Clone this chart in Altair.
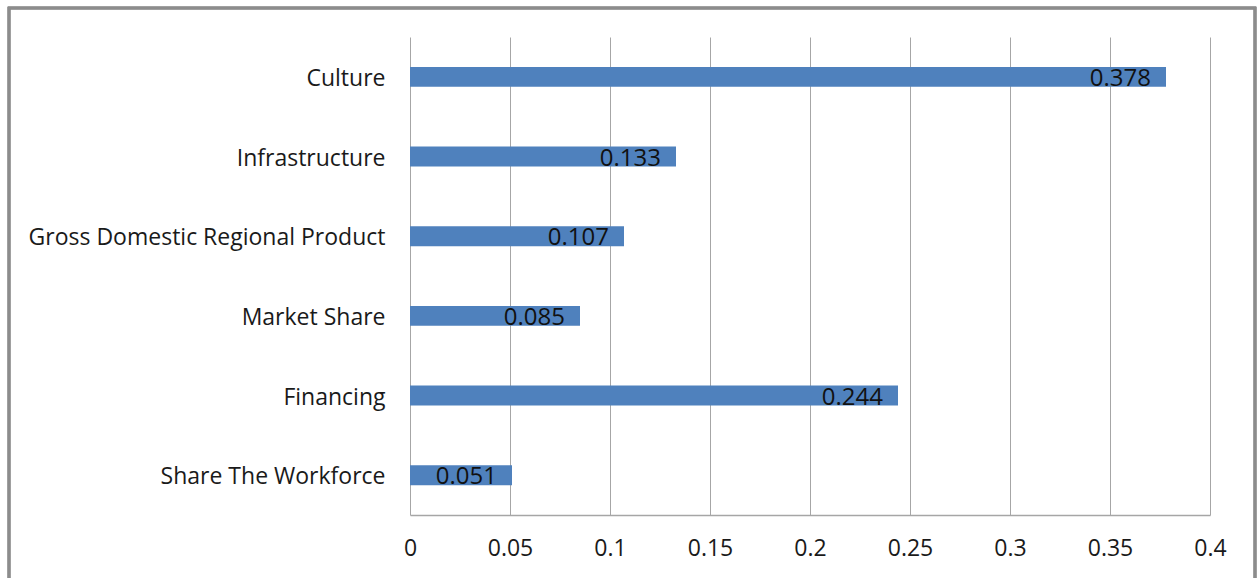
import altair as alt
import pandas as pd

categories = ["Culture", "Infrastructure", "Gross Domestic Regional Product",
              "Market Share", "Financing", "Share The Workforce"]
values = [0.378, 0.133, 0.107, 0.085, 0.244, 0.051]
labels = ["0.378", "0.133", "0.107", "0.085", "0.244", "0.051"]
x_ticks = [0, 0.05, 0.1, 0.15, 0.2, 0.25, 0.3, 0.35, 0.4]

df = pd.DataFrame({"cat": categories, "val": values, "lab": labels})

FONT = "Open Sans"
W, H = 800, 478

x_enc = alt.X("val:Q", scale=alt.Scale(domain=[0, 0.4], nice=False),
              axis=alt.Axis(values=x_ticks, title=None, grid=True, gridColor="#a6a6a6",
                            gridWidth=1, domain=True, domainColor="#a6a6a6", domainWidth=1.5,
                            ticks=False, labelPadding=22, labelFont=FONT, labelFontSize=23,
                            labelColor="#1a1a1a", labelExpr="format(datum.value, '')",
                            labelFlush=False))
y_enc = alt.Y("cat:N", sort=categories,
              scale=alt.Scale(paddingInner=0.75, paddingOuter=0.375),
              axis=alt.Axis(title=None, ticks=False, domain=False, labelPadding=25,
                            labelOffset=2,
                            labelFont=FONT, labelFontSize=23, labelColor="#1a1a1a",
                            labelLimit=500))

bars = alt.Chart(df).mark_bar(color="#4F81BD").encode(x=x_enc, y=y_enc)

text = alt.Chart(df).mark_text(align="right", baseline="middle", dx=-15, dy=2,
                               font=FONT, fontSize=24, color="#111111").encode(
    x="val:Q", y=alt.Y("cat:N", sort=categories), text="lab:N")

border = alt.Chart(df).mark_rect(fill=None, stroke="#8c8c8c", strokeWidth=2.5,
                                 clip=False).encode(
    x=alt.value(9 - 410), x2=alt.value(1255 - 410),
    y=alt.value(8 - 37), y2=alt.value(600 - 37))

chart = alt.layer(border, bars, text).properties(
    width=W, height=H,
    autosize=alt.AutoSizeParams(type="none"),
    padding={"left": 410, "top": 37, "right": 47, "bottom": 63},
    background="white",
).configure_view(stroke=None)

chart.save("out.html", embed_options={"renderer": "svg", "actions": False})
